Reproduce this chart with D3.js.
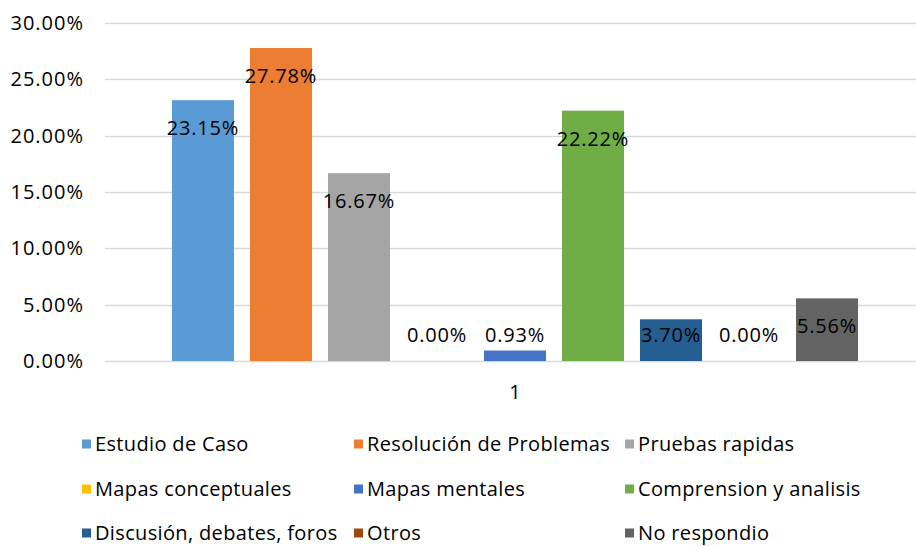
<!DOCTYPE html>
<html>
<head>
<meta charset="utf-8">
<script src="https://cdn.jsdelivr.net/npm/d3@7"></script>
<style>
  body { margin: 0; background: #fff; }
  text { font-family: "Open Sans", "Liberation Sans", sans-serif; fill: #000; }
</style>
</head>
<body>
<div id="chart"></div>
<script>
// data
const categories = ["1"];
const seriesNames = ["Estudio de Caso", "Resolución de Problemas", "Pruebas rapidas",
  "Mapas conceptuales", "Mapas mentales", "Comprension y analisis",
  "Discusión, debates, foros", "Otros", "No respondio"];
const seriesValues = [0.2315, 0.2778, 0.1667, 0.0, 0.0093, 0.2222, 0.0370, 0.0, 0.0556];
const seriesColors = ["#5b9bd5", "#ed7d31", "#a5a5a5", "#ffc000", "#4472c4",
  "#70ad47", "#255e91", "#9e480e", "#636363"];
const yTicks = [0, 0.05, 0.10, 0.15, 0.20, 0.25, 0.30];

const width = 916, height = 546;

const svg = d3.select("#chart").append("svg")
  .attr("width", width)
  .attr("height", height);

const y = d3.scaleLinear().domain([0, 0.30]).range([361, 23]);

const x0 = d3.scaleBand().domain(categories).range([105, 925]).paddingOuter(0.084);
const x1 = d3.scaleBand().domain(seriesNames).range([0, x0.bandwidth()])
  .paddingInner(0.205).paddingOuter(0.1025);

const fmt = d3.format(".2%");

// gridlines
svg.append("g")
  .selectAll("line")
  .data(yTicks)
  .enter().append("line")
  .attr("x1", 105).attr("x2", 916)
  .attr("y1", d => Math.round(y(d)) + 0.5)
  .attr("y2", d => Math.round(y(d)) + 0.5)
  .style("stroke", "#d9d9d9")
  .style("stroke-width", 1.5);

// y labels
svg.append("g")
  .selectAll("text")
  .data(yTicks)
  .enter().append("text")
  .attr("x", 84)
  .attr("y", d => y(d))
  .attr("dy", "0.35em")
  .attr("text-anchor", "end")
  .style("font-size", "20px")
  .style("letter-spacing", "1px")
  .text(d => fmt(d));

// bars
const g = svg.append("g").attr("transform", `translate(${x0("1")},0)`);
g.selectAll("rect")
  .data(seriesValues)
  .enter().append("rect")
  .attr("x", (d, i) => x1(seriesNames[i]))
  .attr("width", x1.bandwidth())
  .attr("y", d => y(d))
  .attr("height", d => y(0) - y(d))
  .style("fill", (d, i) => seriesColors[i]);

// data labels
g.selectAll("text")
  .data(seriesValues)
  .enter().append("text")
  .attr("x", (d, i) => x1(seriesNames[i]) + x1.bandwidth() / 2)
  .attr("y", d => Math.min(y(d) + 28, 335))
  .attr("dy", "0.35em")
  .attr("text-anchor", "middle")
  .style("font-size", "20px")
  .style("letter-spacing", "0.8px")
  .text(d => fmt(d));

// category label
svg.append("text")
  .attr("x", x0("1") + x0.bandwidth() / 2)
  .attr("y", 392)
  .attr("dy", "0.35em")
  .attr("text-anchor", "middle")
  .style("font-size", "20px")
  .text(categories[0]);

// legend
const legCols = [82, 354, 625];
const legRows = [444, 489, 533];
const leg = svg.append("g")
  .selectAll("g")
  .data(seriesNames)
  .enter().append("g")
  .attr("transform", (d, i) => `translate(${legCols[i % 3]},${legRows[Math.floor(i / 3)]})`);
leg.append("rect")
  .attr("x", 0).attr("y", -4.5)
  .attr("width", 9).attr("height", 9)
  .style("fill", (d, i) => seriesColors[i]);
leg.append("text")
  .attr("x", 13)
  .attr("y", 0)
  .attr("dy", "0.33em")
  .style("font-size", "20px")
  .style("letter-spacing", "0.35px")
  .text(d => d);
</script>
</body>
</html>
